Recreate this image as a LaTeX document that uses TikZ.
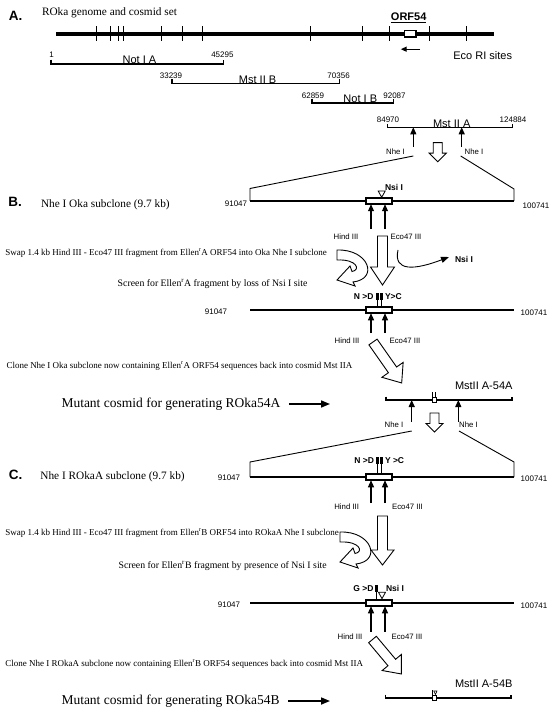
\documentclass[tikz,border=0pt]{standalone}
\usepackage{fontspec}
\setmainfont{Liberation Serif}
\setsansfont{Liberation Sans}
\usetikzlibrary{arrows.meta}
\tikzset{
  every node/.style={inner sep=0pt, outer sep=0pt},
  sec/.style={font=\fontsize{13.5}{14}\selectfont\sffamily\bfseries},
  big/.style={font=\fontsize{11.3}{12}\selectfont\rmfamily},
  desc/.style={font=\fontsize{9}{10}\selectfont\rmfamily},
  scr/.style={font=\fontsize{9.8}{11}\selectfont\rmfamily},
  mutant/.style={font=\fontsize{13.5}{14}\selectfont\rmfamily},
  frag/.style={font=\fontsize{11}{12}\selectfont\sffamily},
  num/.style={font=\fontsize{8}{9}\selectfont\sffamily},
  rs/.style={font=\fontsize{7.8}{9}\selectfont\sffamily},
  mutlbl/.style={font=\fontsize{8.5}{9}\selectfont\sffamily\bfseries},
  dna/.style={line width=1.2pt},
  brk/.style={line width=1.1pt},
  expl/.style={line width=0.9pt},
  orfbox/.style={draw, fill=white, line width=1.8pt, minimum width=26.5pt, minimum height=6.5pt},
  minibox/.style={draw, fill=white, line width=1.1pt, minimum width=3.8pt, minimum height=5pt},
  upar/.style={-{Triangle[length=7pt,width=6pt]}, line width=1.1pt},
  fatarr/.style={-{Triangle[length=9pt,width=7pt]}, line width=1.6pt},
  hollow/.style={draw, fill=white, line width=0.9pt, line join=miter},
  pics/harrow/.style n args={4}{code={
    \draw[hollow] (0,-#3) -- ({#1-#2},-#3) -- ({#1-#2},-#4) -- (#1,0) -- ({#1-#2},#4) -- ({#1-#2},#3) -- (0,#3) -- cycle;}},
  pics/curvearr/.style={code={
    \draw[hollow] (0,-5) .. controls (32,-6) and (42,24) .. (16,27) -- (18,31) -- (0,25) -- (13,11) -- (15,16.5) .. controls (24,15) and (20,4) .. (0,5) -- cycle;}},
}
\begin{document}
\begin{tikzpicture}[x=1pt,y=-1pt]
\useasboundingbox (0,0) rectangle (551,711);
\fill[white] (0,0) rectangle (551,711);

% ---------------- Section A ----------------
\node[sec, anchor=base west] (secA) at (8.8,21) {A.};
\node[big, anchor=base west] (titleA) at (42,15.8) {ROka genome and cosmid set};
\coordinate (gL) at (56,34);
\coordinate (gR) at (494,34);
\draw[line width=4.2pt] (gL) -- (gR);
\foreach \t in {96,110,118.8,123.7,161.7,182.1,202.1,310.4,362.7,389.1,429.5,466.8}
  \draw[line width=1pt] (\t,26.5) -- (\t,41.5);
\node[draw, fill=white, line width=1.5pt, minimum width=11.5pt, minimum height=6.5pt] (orfA) at (410,34) {};
\node[font=\fontsize{11}{12}\selectfont\sffamily\bfseries, anchor=base] (orf54) at (408.7,20.2) {\underline{ORF54}};
\coordinate (oa1) at (420,49.2);
\coordinate (oa2) at (400.7,49.2);
\draw[-{Triangle[length=6pt,width=5pt]}, line width=1.3pt] (oa1) -- (oa2);
\node[frag, anchor=base west] (eco) at (453.4,59.8) {Eco RI sites};

% Not I A
\coordinate (na1) at (51,64);
\coordinate (na2) at (223.6,64);
\draw[brk] (na1) ++(0,-4.3) -- (na1) -- (na2) -- ++(0,-4.3);
\node[num, anchor=base] (n1) at (51.7,58) {1};
\node[num, anchor=base] (n45295) at (222.4,58) {45295};
\node[frag, anchor=base] (notIA) at (139.5,64) {Not I A};
% Mst II B
\coordinate (mb1) at (172,83.7);
\coordinate (mb2) at (339.5,83.7);
\draw[brk] (mb1) ++(0,-4.3) -- (mb1) -- (mb2) -- ++(0,-4.3);
\node[num, anchor=base] (n33239) at (171,79) {33239};
\node[num, anchor=base] (n70356) at (338.6,79) {70356};
\node[frag, anchor=base] (mstIIB) at (257.6,83.7) {Mst II B};
% Not I B
\coordinate (nb1) at (312,103);
\coordinate (nb2) at (393.7,103);
\draw[brk] (nb1) ++(0,-4.3) -- (nb1) -- (nb2) -- ++(0,-4.3);
\node[num, anchor=base] (n62859) at (313,98.4) {62859};
\node[num, anchor=base] (n92087) at (394.5,98.4) {92087};
\node[frag, anchor=base] (notIB) at (360.3,103) {Not I B};
% Mst II A
\coordinate (ma1) at (387.3,127.3);
\coordinate (ma2) at (512.7,127.3);
\draw[brk] (ma1) ++(0,-3.5) -- (ma1) -- (ma2) -- ++(0,-3.5);
\node[num, anchor=base] (n84970) at (388,122.7) {84970};
\node[num, anchor=base] (n124884) at (513,122.7) {124884};
\node[frag, anchor=base] (mstIIA) at (451.7,127.3) {Mst II A};
\coordinate (nhA1) at (413.3,147);
\coordinate (nhA2) at (461.7,147);
\draw[upar] (nhA1) -- (nhA1 |- ma1);
\draw[upar] (nhA2) -- (nhA2 |- ma1);
\node[rs] (nheA1) at (395.5,152) {Nhe I};
\node[rs] (nheA2) at (474,152) {Nhe I};
\pic[rotate=-90] at (437.7,142.7) {harrow={19}{8.5}{4.5}{8.5}};

% expansion to B
\coordinate (eB1) at (413.3,156);
\coordinate (eB2) at (250,188.5);
\coordinate (bL1) at (250,201);
\coordinate (eB3) at (460.7,156);
\coordinate (eB4) at (514,189);
\coordinate (bR1) at (514,201);
\draw[expl] (eB1) -- (eB2) -- (bL1);
\draw[expl] (eB3) -- (eB4) -- (bR1);

% ---------------- Section B ----------------
\node[sec, anchor=base west] (secB) at (8.3,206.7) {B.};
\node[big, anchor=base west] (titleB) at (41,207.5) {Nhe I Oka subclone (9.7 kb)};
\node[num] (b1l) at (236,204) {91047};
\node[num] (b1r) at (536,206) {100741};
\draw[dna] (bL1) -- (bR1);
\node[orfbox] (bB1) at (379,201) {};
\draw[fill=white, line width=0.8pt] (378.2,191) -- (385.2,191) -- (381.7,197.3) -- cycle;
\node[mutlbl, anchor=west] (nsiB1) at (385,187) {Nsi I};
\coordinate (hB1) at (371,229);
\coordinate (kB1) at (385,229);
\draw[upar] (hB1) -- (hB1 |- bB1.south);
\draw[upar] (kB1) -- (kB1 |- bB1.south);
\node[rs] (hindB1) at (346,236.5) {Hind III};
\node[rs] (ecoB1) at (406,236.5) {Eco47 III};

\node[desc, anchor=west] (swapB) at (5.3,253) {Swap 1.4 kb Hind III - Eco47 III fragment from Ellen\textsuperscript{r}A ORF54 into Oka Nhe I subclone};
\node[scr, anchor=east] (scrB) at (307.5,284) {Screen for Ellen\textsuperscript{r}A fragment by loss of Nsi I site};
\pic[rotate=-90] at (382.5,236) {harrow={49}{18}{5}{12}};
\pic at (337,255) {curvearr};
\coordinate (nsS) at (398,250);
\node[mutlbl, anchor=west] (nsiLost) at (455,259) {Nsi I};
\draw[-{Triangle[length=8pt,width=6pt]}, line width=0.9pt] (nsS) .. controls (393,272) and (415,270) .. ([xshift=-6pt,yshift=2pt]nsiLost.west);

% B second row
\node[mutlbl, anchor=east] (ndB2) at (373.5,297) {N >D};
\node[mutlbl, anchor=west] (ycB2) at (385,297) {Y>C};
\node[num] (b2l) at (216,311.5) {91047};
\node[num] (b2r) at (534,313) {100741};
\coordinate (bL2) at (250,310);
\coordinate (bR2) at (514,310);
\draw[dna] (bL2) -- (bR2);
\draw[line width=0.8pt] (377.3,299) -- (377.3,306) (381.7,299) -- (381.7,306);
\fill (376,292.5) rectangle (378.6,299.5);
\fill (380.4,292.5) rectangle (383,299.5);
\node[orfbox] (bB2) at (379,310) {};
\coordinate (hB2) at (371,333);
\coordinate (kB2) at (385,333);
\draw[upar] (hB2) -- (hB2 |- bB2.south);
\draw[upar] (kB2) -- (kB2 |- bB2.south);
\node[rs] (hindB2) at (347,341) {Hind III};
\node[rs] (ecoB2) at (405,341) {Eco47 III};
\pic[rotate=-55] at (373,342) {harrow={50}{16}{5}{13}};
\node[desc, anchor=west] (cloneB) at (6.5,366) {Clone Nhe I Oka subclone now containing Ellen\textsuperscript{r}A ORF54 sequences back into cosmid Mst IIA};

% cosmid 54A
\node[frag, anchor=west] (m54A) at (455,385.7) {MstII A-54A};
\node[mutant, anchor=west] (mutA) at (61.5,404) {Mutant cosmid for generating ROka54A};
\coordinate (mAend) at (330,404);
\draw[fatarr] ([xshift=8.5pt]mutA.east) -- (mAend);
\coordinate (c1L) at (386,400);
\coordinate (c1R) at (512,400);
\draw[brk] (c1L) ++(0,-3.5) -- (c1L) -- (c1R) -- ++(0,-3.5);
\draw[line width=1.1pt] (432.9,392) -- (432.9,397.5) (435.5,392) -- (435.5,397.5);
\node[minibox] (cb1) at (434.2,400) {};
\coordinate (nhC1) at (411.7,421.7);
\coordinate (nhC2) at (458.3,421.7);
\draw[upar] (nhC1) -- (nhC1 |- c1L);
\draw[upar] (nhC2) -- (nhC2 |- c1L);
\node[rs] (nheC1) at (394,425) {Nhe I};
\node[rs] (nheC2) at (468.5,425) {Nhe I};
\pic[rotate=-90] at (434.5,413) {harrow={19}{8.5}{4.5}{8.5}};

% expansion to C
\coordinate (eC1) at (411.7,431);
\coordinate (eC2) at (250,462);
\coordinate (cL1) at (250,477);
\coordinate (eC3) at (459,431);
\coordinate (eC4) at (514,462);
\coordinate (cR1) at (514,477);
\draw[expl] (eC1) -- (eC2) -- (cL1);
\draw[expl] (eC3) -- (eC4) -- (cR1);

% ---------------- Section C ----------------
\node[sec, anchor=base west] (secC) at (8.8,479) {C.};
\node[big, anchor=base west] (titleC) at (40.4,479.5) {Nhe I ROkaA subclone (9.7 kb)};
\node[num] (c1l) at (229,478) {91047};
\node[num] (c1r) at (534,479) {100741};
\draw[dna] (cL1) -- (cR1);
\node[mutlbl, anchor=east] (ndC1) at (374,461) {N >D};
\node[mutlbl, anchor=west] (ycC1) at (385,461) {Y >C};
\draw[line width=0.8pt] (377.7,463) -- (377.7,473) (381.7,463) -- (381.7,473);
\fill (376.4,456.5) rectangle (379,463.5);
\fill (380.4,456.5) rectangle (383,463.5);
\node[orfbox] (bC1) at (379,477) {};
\coordinate (hC1) at (371,503);
\coordinate (kC1) at (385,503);
\draw[upar] (hC1) -- (hC1 |- bC1.south);
\draw[upar] (kC1) -- (kC1 |- bC1.south);
\node[rs] (hindC1) at (346.7,507) {Hind III};
\node[rs] (ecoC1) at (407.5,507) {Eco47 III};
\node[desc, anchor=west] (swapC) at (5.3,533) {Swap 1.4 kb Hind III - Eco47 III fragment from Ellen\textsuperscript{r}B ORF54 into ROkaA Nhe I subclone};
\node[scr, anchor=east] (scrC) at (326.8,566) {Screen for Ellen\textsuperscript{r}B fragment by presence of Nsi I site};
\pic[rotate=-90] at (382.5,516) {harrow={49}{15}{5}{11.5}};
\pic at (340,537) {curvearr};

% C second row
\node[mutlbl, anchor=east] (gdC2) at (373.5,589) {G >D};
\draw[line width=0.8pt] (376.5,591) -- (376.5,599);
\fill (375.2,584.5) rectangle (377.8,591.5);
\draw[fill=white, line width=0.8pt] (378.5,592.3) -- (385.5,592.3) -- (382,598.6) -- cycle;
\node[mutlbl, anchor=west] (nsiC2) at (386,588.5) {Nsi I};
\node[num] (c2l) at (229,604.5) {91047};
\node[num] (c2r) at (534,606) {100741};
\coordinate (cL2) at (250,603);
\coordinate (cR2) at (514,603);
\draw[dna] (cL2) -- (cR2);
\node[orfbox] (bC2) at (379,603) {};
\coordinate (hC2) at (371,631.7);
\coordinate (kC2) at (385,631.7);
\draw[upar] (hC2) -- (hC2 |- bC2.south);
\draw[upar] (kC2) -- (kC2 |- bC2.south);
\node[rs] (hindC2) at (350,636.7) {Hind III};
\node[rs] (ecoC2) at (407,636.7) {Eco47 III};
\pic[rotate=-50] at (372.5,639.5) {harrow={45}{15}{5}{12.5}};
\node[desc, anchor=west] (cloneC) at (5.3,664) {Clone Nhe I ROkaA subclone now containing Ellen\textsuperscript{r}B ORF54 sequences back into cosmid Mst IIA};

% cosmid 54B
\node[frag, anchor=west] (m54B) at (455,684) {MstII A-54B};
\node[mutant, anchor=west] (mutB) at (61.5,701) {Mutant cosmid for generating ROka54B};
\coordinate (mBend) at (330,701);
\draw[fatarr] ([xshift=8.5pt]mutB.east) -- (mBend);
\coordinate (c2L) at (385.5,698);
\coordinate (c2R) at (511,698);
\draw[brk] (c2L) ++(0,-3.5) -- (c2L) -- (c2R) -- ++(0,-3.5);
\draw[line width=1.1pt] (432.4,690) -- (432.4,695.5);
\draw[fill=white, line width=0.6pt] (433.8,691) -- (437,691) -- (435.4,694.5) -- cycle;
\node[minibox] (cb2) at (434.2,698) {};
\end{tikzpicture}
\end{document}
